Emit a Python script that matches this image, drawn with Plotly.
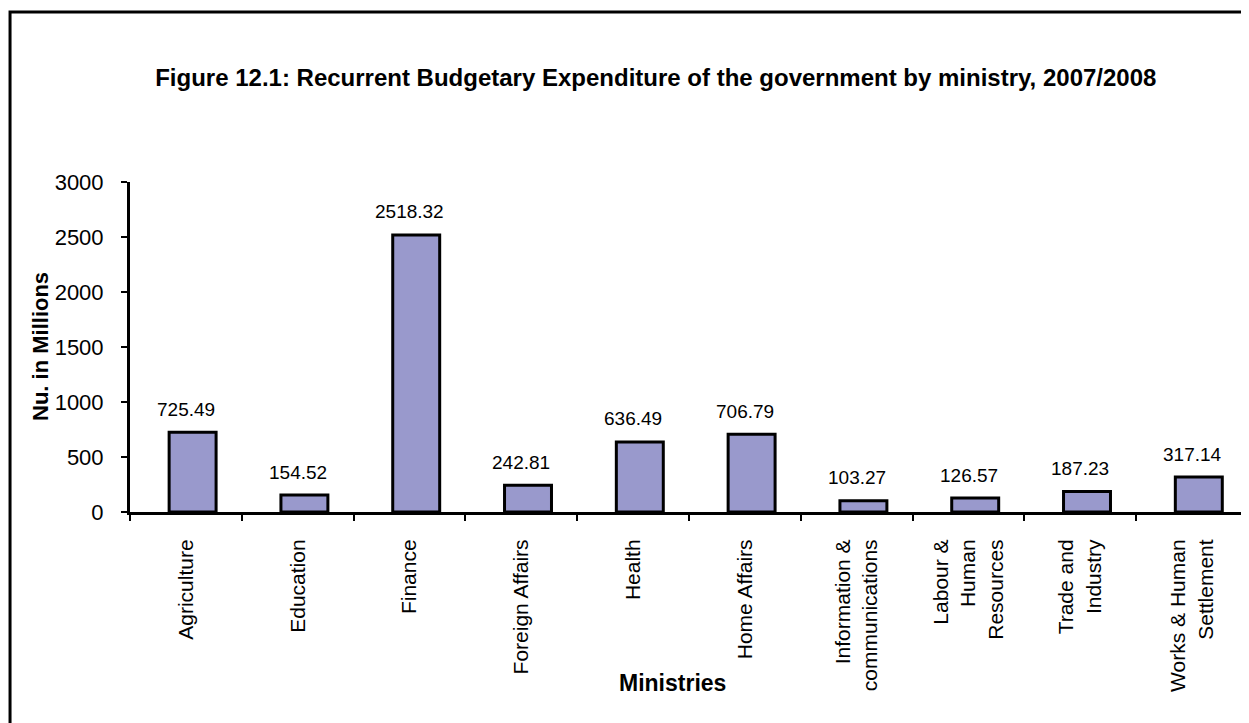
import plotly.graph_objects as go

categories = ["Agriculture", "Education", "Finance", "Foreign Affairs", "Health",
              "Home Affairs", "Information &<br>communications", "Labour &<br>Human<br>Resources",
              "Trade and<br>Industry", "Works & Human<br>Settlement"]
values = [725.49, 154.52, 2518.32, 242.81, 636.49, 706.79, 103.27, 126.57, 187.23, 317.14]
y_ticks = [0, 500, 1000, 1500, 2000, 2500, 3000]

title_text = "Figure 12.1: Recurrent Budgetary Expenditure of the government by ministry, 2007/2008"
font_family = "Arial, Liberation Sans, sans-serif"

fig = go.Figure()
fig.add_trace(go.Bar(
    x=categories, y=values,
    width=0.42, offset=-0.15,
    marker=dict(color="#9999CC", line=dict(color="black", width=3)),
    hoverinfo="x+y",
))

annotations = []
for c, v in zip(categories, values):
    annotations.append(dict(x=c, y=v, text=f"{v:.2f}", showarrow=False, yshift=23,
                            font=dict(size=19, color="black", family=font_family)))
annotations.append(dict(x=-0.0805, y=0.5, xref="paper", yref="paper", text="<b>Nu. in Millions</b>",
                        textangle=-90, showarrow=False, xanchor="center", yanchor="middle",
                        font=dict(size=22, color="black", family=font_family)))
annotations.append(dict(x=0.4848, y=-0.518, xref="paper", yref="paper", text="<b>Ministries</b>",
                        showarrow=False, xanchor="center", yanchor="middle",
                        font=dict(size=23, color="black", family=font_family)))

fig.update_layout(
    width=1241, height=715,
    margin=dict(l=122, r=1, t=174, b=211),
    paper_bgcolor="white", plot_bgcolor="white",
    showlegend=False,
    font=dict(family=font_family, color="black"),
    title=dict(text="<b>" + title_text + "</b>", x=0.522, xanchor="center",
               y=1 - 70 / 715, yanchor="middle",
               font=dict(size=24, color="black", family=font_family)),
    annotations=annotations,
    shapes=[dict(type="rect", xref="paper", yref="paper", x0=-0.1073, x1=0.9982,
                 y0=-0.7, y1=1.5152, line=dict(color="black", width=3), layer="above")],
)
fig.update_xaxes(
    type="category", tickson="boundaries", ticks="outside", ticklen=6, tickwidth=2,
    tickcolor="black", showline=True, linecolor="black", linewidth=3,
    tickangle=-90, tickfont=dict(size=21, color="black", family=font_family),
    ticklabelstandoff=16, showgrid=False, range=[-0.5, 9.5],
)
fig.update_yaxes(
    range=[0, 3000], tickvals=y_ticks, ticks="outside", ticklen=6, tickwidth=2,
    tickcolor="black", showline=True, linecolor="black", linewidth=3,
    tickfont=dict(size=22, color="black", family=font_family),
    ticklabelstandoff=13, showgrid=False, zeroline=False,
)

fig.write_html("out.html")
